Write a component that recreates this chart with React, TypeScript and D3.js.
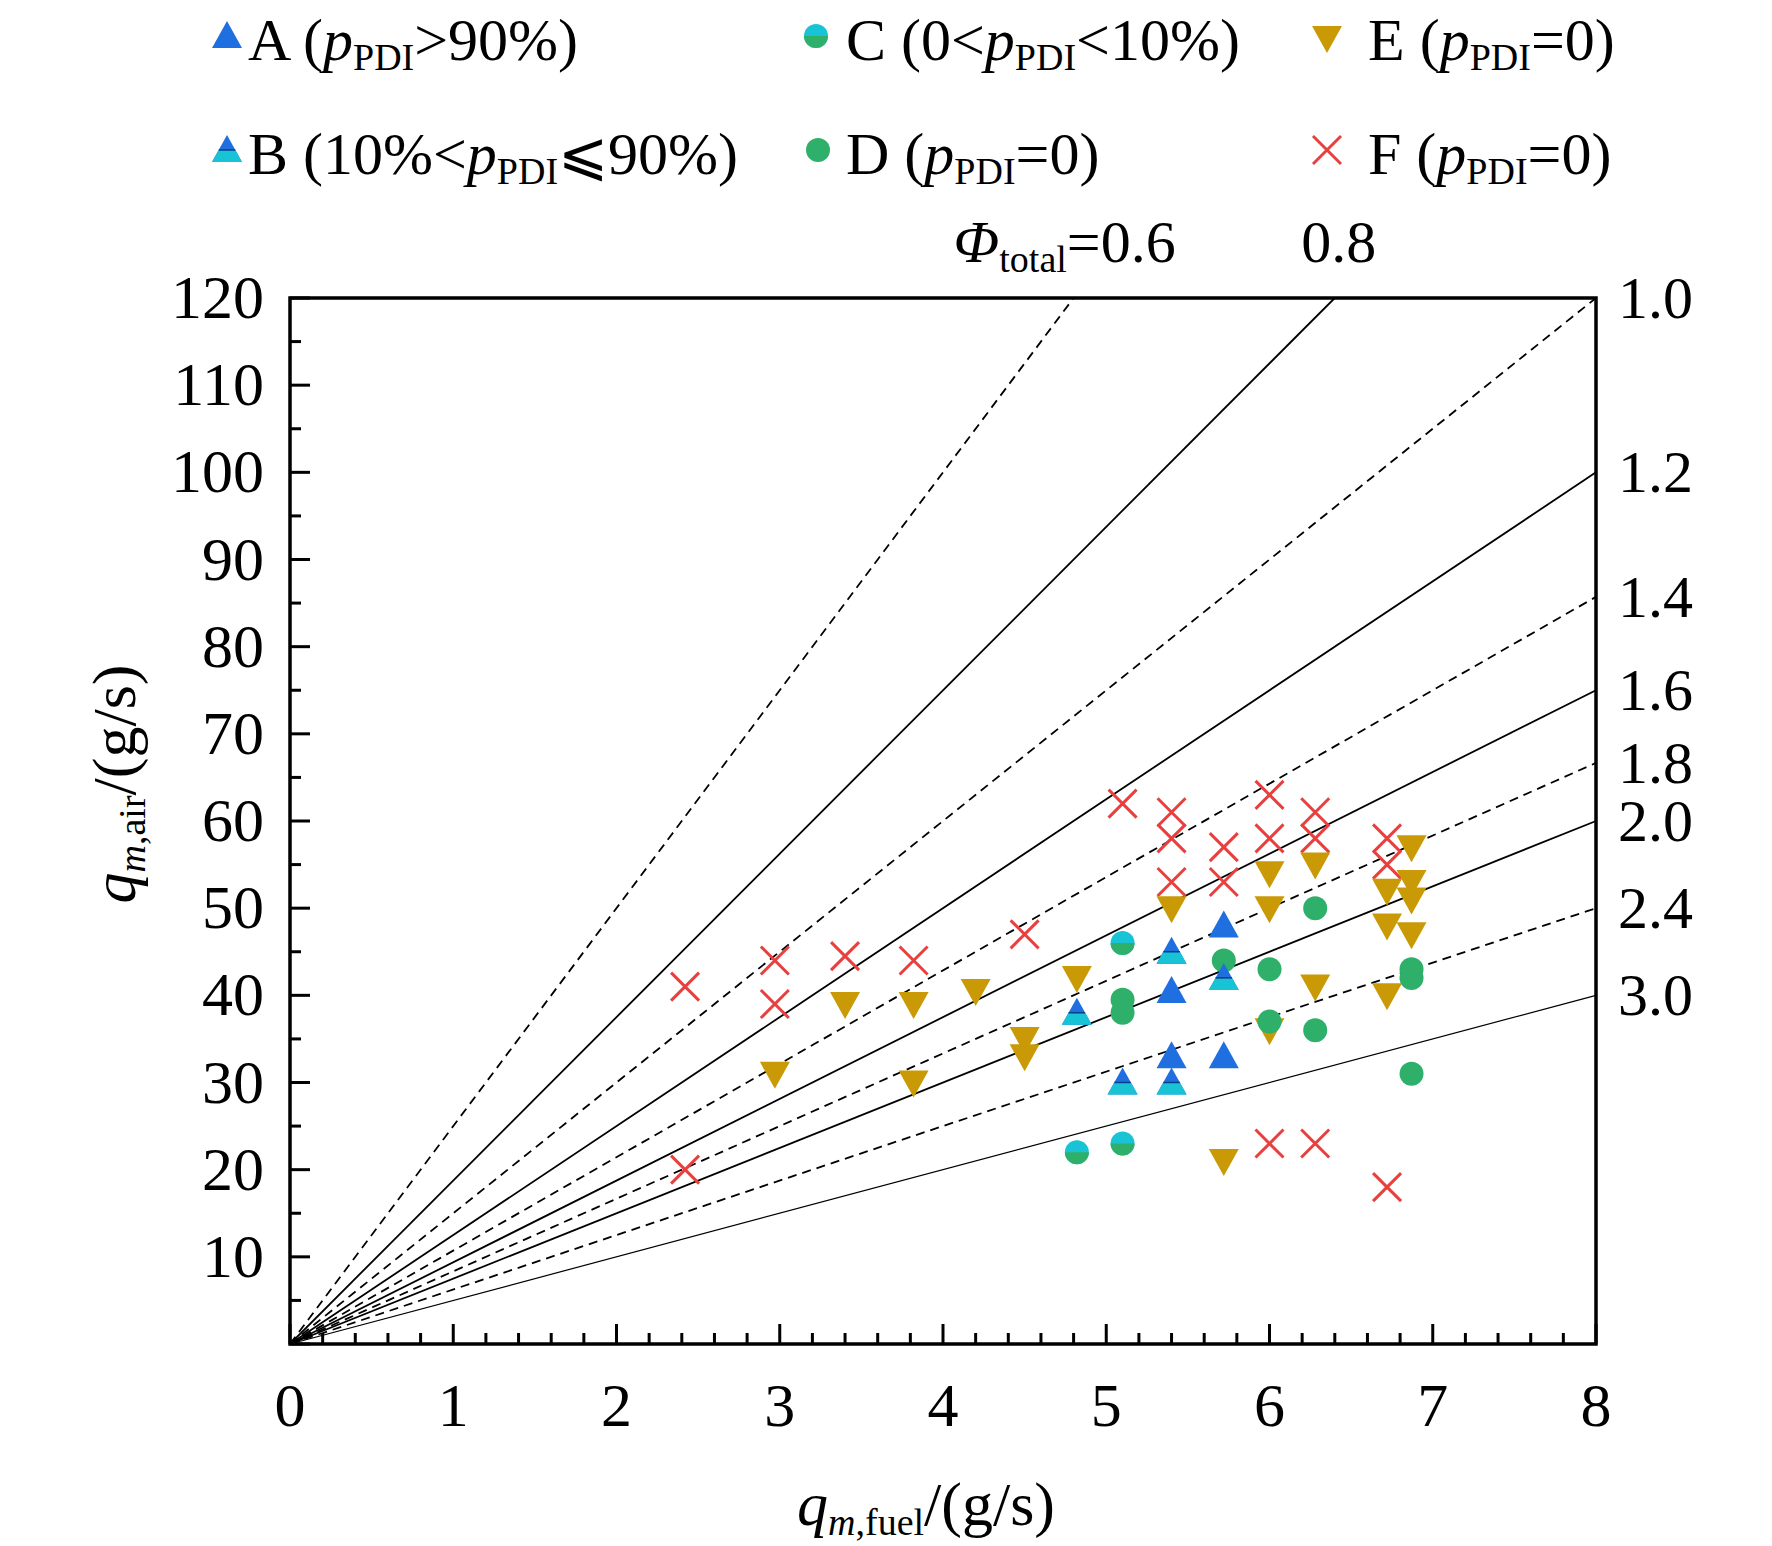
import React from 'react';
import * as d3 from 'd3';

const phiLines = [0.6, 0.8, 1.0, 1.2, 1.4, 1.6, 1.8, 2.0, 2.4, 3.0];
const phiDashed = [true, false, true, false, true, false, true, false, true, false];
const stoich = 15;

const seriesA = [[5.72, 48], [5.4, 40.5], [5.4, 33], [5.72, 33]];
const seriesB = [[4.82, 38], [5.1, 30], [5.4, 30], [5.4, 45], [5.72, 42]];
const seriesC = [[4.82, 22], [5.1, 23], [5.1, 46]];
const seriesD = [[5.1, 39.5], [5.1, 38], [5.72, 44], [6.0, 43], [6.0, 37], [6.28, 50], [6.28, 36], [6.87, 43], [6.87, 42], [6.87, 31]];
const seriesE = [[2.97, 31], [3.4, 39], [3.82, 39], [3.82, 30], [4.2, 40.5], [4.5, 35], [4.5, 33], [4.82, 42], [5.4, 50], [5.72, 21], [6.0, 54], [6.0, 50], [6.0, 36], [6.28, 55], [6.28, 41], [6.72, 52], [6.72, 48], [6.72, 40], [6.87, 57], [6.87, 53], [6.87, 51], [6.87, 47]];
const seriesF = [[2.42, 41], [2.42, 20], [2.97, 44], [2.97, 39], [3.4, 44.5], [3.82, 44], [4.5, 47], [5.1, 62], [5.4, 61], [5.4, 58], [5.4, 53], [5.72, 57], [5.72, 53], [6.0, 63], [6.0, 58], [6.0, 23], [6.28, 61], [6.28, 58], [6.28, 23], [6.72, 58], [6.72, 55], [6.72, 18]];

const xTicks = [0, 1, 2, 3, 4, 5, 6, 7, 8];
const yTicks = [10, 20, 30, 40, 50, 60, 70, 80, 90, 100, 110, 120];

const BLUE = '#1f6fe0';
const CYAN = '#19c3d6';
const GREEN = '#2fb06a';
const GOLD = '#c99a06';
const RED = '#e8403f';
const FONT = '"Liberation Serif", "Times New Roman", serif';

const m = { left: 290, right: 1596, top: 298, bottom: 1344 };
const x = d3.scaleLinear().domain([0, 8]).range([m.left, m.right]);
const y = d3.scaleLinear().domain([0, 120]).range([m.bottom, m.top]);

const R = 15;
const TriUp = ({ cx, cy, half }: { cx: number; cy: number; half?: boolean }) => (
  <g transform={`translate(${cx},${cy})`}>
    <path d={`M0,${-R}L${R},${R * 0.8}L${-R},${R * 0.8}Z`} fill={BLUE} />
    {half && <path d={`M${-R * 0.55},0L${R * 0.55},0L${R},${R * 0.8}L${-R},${R * 0.8}Z`} fill={CYAN} />}
    {half && <line x1={-R * 0.55} x2={R * 0.55} y1={0} y2={0} stroke="#0b3d8a" strokeWidth={1.5} />}
  </g>
);
const HalfCircle = ({ cx, cy }: { cx: number; cy: number }) => (
  <g transform={`translate(${cx},${cy})`}>
    <circle r={R * 0.8} fill={CYAN} />
    <path d={`M${-R * 0.8},0A${R * 0.8},${R * 0.8} 0 0 0 ${R * 0.8},0Z`} fill={GREEN} />
  </g>
);
const Dot = ({ cx, cy }: { cx: number; cy: number }) => <circle cx={cx} cy={cy} r={R * 0.8} fill={GREEN} />;
const TriDown = ({ cx, cy }: { cx: number; cy: number }) => (
  <path transform={`translate(${cx},${cy})`} d={`M0,${R}L${R},${-R * 0.8}L${-R},${-R * 0.8}Z`} fill={GOLD} />
);
const Cross = ({ cx, cy }: { cx: number; cy: number }) => (
  <path transform={`translate(${cx},${cy})`} d={`M-14,-14L14,14M-14,14L14,-14`} stroke={RED} strokeWidth={3} />
);

const Sub = ({ children }: { children: React.ReactNode }) => (
  <tspan fontSize={38} dy={10}>{children}</tspan>
);

export default function App() {
  const lineEnd = (phi: number) => {
    const slope = stoich / phi;
    const xe = Math.min(8, 120 / slope);
    return [xe, xe * slope];
  };
  const minorX = d3.range(0, 8.001, 0.2);
  const minorY = d3.range(0, 120.001, 5);
  const fs = 62;
  return (
    <svg width={1772} height={1546} style={{ position: 'absolute', left: 0, top: 0, background: '#fff' }} fontFamily={FONT}>
      {phiLines.map((phi, i) => {
        const [xe, ye] = lineEnd(phi);
        return (
          <line key={phi} x1={x(0)} y1={y(0)} x2={x(xe)} y2={y(ye)} stroke="#000"
            strokeWidth={phi === 3.0 ? 1.2 : 1.8} strokeDasharray={phiDashed[i] ? '9,6' : undefined} />
        );
      })}
      {minorX.map((v, i) => (
        <line key={'mx' + i} x1={x(v)} x2={x(v)} y1={m.bottom} y2={m.bottom - (i % 5 === 0 ? 20 : 11)} stroke="#000" strokeWidth={3} />
      ))}
      {minorY.map((v, i) => (
        <line key={'my' + i} y1={y(v)} y2={y(v)} x1={m.left} x2={m.left + (i % 2 === 0 ? 20 : 11)} stroke="#000" strokeWidth={3} />
      ))}
      <rect x={m.left} y={m.top} width={m.right - m.left} height={m.bottom - m.top} fill="none" stroke="#000" strokeWidth={3.5} />
      {xTicks.map(v => (
        <text key={'xt' + v} x={x(v)} y={m.bottom + 82} textAnchor="middle" fontSize={fs}>{v}</text>
      ))}
      {yTicks.map(v => (
        <text key={'yt' + v} x={m.left - 26} y={y(v) + 20} textAnchor="end" fontSize={fs}>{v}</text>
      ))}
      {phiLines.filter(p => p >= 1).map(phi => {
        const [, ye] = lineEnd(phi);
        return <text key={'rl' + phi} x={m.left + 1328} y={y(ye) + 20} fontSize={fs - 2}>{phi.toFixed(1)}</text>;
      })}
      <text x={x(lineEnd(0.6)[0]) - 120} y={262} fontSize={fs - 2}>
        <tspan fontStyle="italic">Φ</tspan><Sub>total</Sub><tspan dy={-10}>=0.6</tspan>
      </text>
      <text x={x(lineEnd(0.8)[0]) + 4} y={262} textAnchor="middle" fontSize={fs - 2}>0.8</text>
      <text x={926} y={1525} textAnchor="middle" fontSize={fs}>
        <tspan fontStyle="italic">q</tspan><tspan fontSize={38} dy={10} fontStyle="italic">m</tspan><tspan fontSize={38}>,fuel</tspan><tspan dy={-10}>/(g/s)</tspan>
      </text>
      <text transform="translate(135,784) rotate(-90)" textAnchor="middle" fontSize={fs}>
        <tspan fontStyle="italic">q</tspan><tspan fontSize={38} dy={10} fontStyle="italic">m</tspan><tspan fontSize={38}>,air</tspan><tspan dy={-10}>/(g/s)</tspan>
      </text>
      {seriesF.map((d, i) => <Cross key={'f' + i} cx={x(d[0])} cy={y(d[1])} />)}
      {seriesE.map((d, i) => <TriDown key={'e' + i} cx={x(d[0])} cy={y(d[1])} />)}
      {seriesD.map((d, i) => <Dot key={'d' + i} cx={x(d[0])} cy={y(d[1])} />)}
      {seriesC.map((d, i) => <HalfCircle key={'c' + i} cx={x(d[0])} cy={y(d[1])} />)}
      {seriesA.map((d, i) => <TriUp key={'a' + i} cx={x(d[0])} cy={y(d[1])} />)}
      {seriesB.map((d, i) => <TriUp key={'b' + i} cx={x(d[0])} cy={y(d[1])} half />)}
      <g fontSize={60}>
        <TriUp cx={227} cy={36} />
        <text x={248} y={60}>A (<tspan fontStyle="italic">p</tspan><Sub>PDI</Sub><tspan dy={-10}>&gt;90%)</tspan></text>
        <HalfCircle cx={816} cy={36} />
        <text x={846} y={60}>C (0&lt;<tspan fontStyle="italic">p</tspan><Sub>PDI</Sub><tspan dy={-10}>&lt;10%)</tspan></text>
        <TriDown cx={1327} cy={38} />
        <text x={1368} y={60}>E (<tspan fontStyle="italic">p</tspan><Sub>PDI</Sub><tspan dy={-10}>=0)</tspan></text>
        <TriUp cx={227} cy={150} half />
        <text x={248} y={174}>B (10%&lt;<tspan fontStyle="italic">p</tspan><Sub>PDI</Sub><tspan dy={-10}>⩽90%)</tspan></text>
        <Dot cx={818} cy={150} />
        <text x={846} y={174}>D (<tspan fontStyle="italic">p</tspan><Sub>PDI</Sub><tspan dy={-10}>=0)</tspan></text>
        <Cross cx={1327} cy={150} />
        <text x={1368} y={174}>F (<tspan fontStyle="italic">p</tspan><Sub>PDI</Sub><tspan dy={-10}>=0)</tspan></text>
      </g>
    </svg>
  );
}
